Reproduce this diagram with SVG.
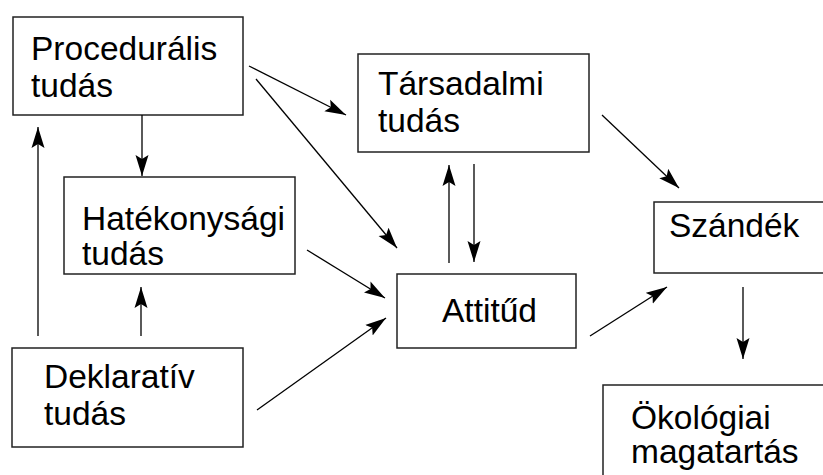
<svg xmlns="http://www.w3.org/2000/svg" width="823" height="475" viewBox="0 0 823 475">
<defs>
<style>
.box{fill:#fff;stroke:#222;stroke-width:1.5}
.lbl{font-family:"Liberation Sans",Arial,sans-serif;font-size:33.5px;fill:#000}
.edge{stroke:#000;stroke-width:1.3;fill:none;marker-end:url(#ah)}
</style>
<marker id="ah" markerUnits="userSpaceOnUse" markerWidth="22" markerHeight="14" refX="21" refY="7" orient="auto" viewBox="0 0 22 14">
<path d="M0,0.5 L21,7 L0,13.5 L4,7 Z" fill="#000"/>
</marker>
</defs>
<rect width="823" height="475" fill="#fff"/>
<g id="proceduralis">
<rect class="box" x="13" y="17" width="230" height="98"/>
<text class="lbl" x="31" y="60">Procedurális</text>
<text class="lbl" x="31" y="97">tudás</text>
</g>
<g id="hatekonysagi">
<rect class="box" x="64" y="177" width="231" height="97"/>
<text class="lbl" x="82" y="230">Hatékonysági</text>
<text class="lbl" x="82" y="265">tudás</text>
</g>
<g id="deklarativ">
<rect class="box" x="12" y="348" width="231" height="99"/>
<text class="lbl" x="44" y="388">Deklaratív</text>
<text class="lbl" x="44" y="425">tudás</text>
</g>
<g id="tarsadalmi">
<rect class="box" x="358" y="54" width="231" height="98"/>
<text class="lbl" x="378" y="95">Társadalmi</text>
<text class="lbl" x="378" y="132">tudás</text>
</g>
<g id="attitud">
<rect class="box" x="397" y="274" width="179" height="74"/>
<text class="lbl" x="442" y="322">Attitűd</text>
</g>
<g id="szandek">
<rect class="box" x="654" y="202" width="180" height="71"/>
<text class="lbl" x="669" y="237">Szándék</text>
</g>
<g id="okologiai">
<rect class="box" x="603" y="385" width="240" height="110"/>
<text class="lbl" x="631" y="429">Ökológiai</text>
<text class="lbl" x="631" y="463">magatartás</text>
</g>
<g id="connectors">
<line class="edge" x1="249" y1="66" x2="346" y2="115"/>
<line class="edge" x1="256" y1="79" x2="397" y2="248"/>
<line class="edge" x1="142" y1="115" x2="142" y2="176"/>
<line class="edge" x1="38" y1="336" x2="38" y2="127"/>
<line class="edge" x1="141" y1="336" x2="141" y2="287"/>
<line class="edge" x1="307" y1="250" x2="385" y2="298"/>
<line class="edge" x1="257" y1="410" x2="386" y2="318"/>
<line class="edge" x1="449" y1="263" x2="449" y2="165"/>
<line class="edge" x1="474" y1="164" x2="474" y2="262"/>
<line class="edge" x1="602" y1="115" x2="679" y2="188"/>
<line class="edge" x1="590" y1="336" x2="667" y2="287"/>
<line class="edge" x1="743" y1="287" x2="743" y2="359"/>
</g>
</svg>
